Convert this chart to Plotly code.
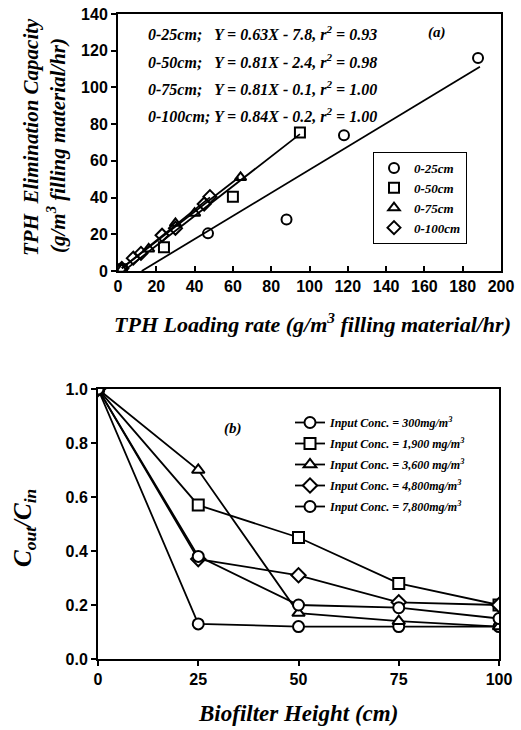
import plotly.graph_objects as go

# ---------- Panel (a) data ----------
a_names = ["0-25cm", "0-50cm", "0-75cm", "0-100cm"]
a_symbols = ["circle-open", "square-open", "triangle-up-open", "diamond-open"]
a_x = [
    [2, 47, 88, 118, 188],
    [2, 24, 60, 95],
    [2, 16, 30, 40, 64],
    [2, 8, 12, 23, 30, 45, 48],
]
a_y = [
    [1, 20.5, 28, 74, 116],
    [1, 13, 40.5, 75.5],
    [1, 12, 26, 31.5, 51],
    [1.4, 7, 9.6, 19.5, 23.3, 36.5, 40.5],
]
fit_slope = [0.63, 0.81, 0.81, 0.84]
fit_icpt = [-7.8, -2.4, -0.1, -0.2]
fit_xmin = [12.4, 3, 2, 2]
fit_xmax = [189, 95, 63, 48]
eq_text = [
    "0-25cm;   Y = 0.63X - 7.8, r<sup>2</sup> = 0.93",
    "0-50cm;   Y = 0.81X - 2.4, r<sup>2</sup> = 0.98",
    "0-75cm;   Y = 0.81X - 0.1, r<sup>2</sup> = 1.00",
    "0-100cm; Y = 0.84X - 0.2, r<sup>2</sup> = 1.00",
]

# ---------- Panel (b) data ----------
b_height = [0, 25, 50, 75, 100]
b_names = [
    "Input Conc. = 300mg/m<sup>3</sup>",
    "Input Conc. = 1,900 mg/m<sup>3</sup>",
    "Input Conc. = 3,600 mg/m<sup>3</sup>",
    "Input Conc. = 4,800mg/m<sup>3</sup>",
    "Input Conc. = 7,800mg/m<sup>3</sup>",
]
b_symbols = ["circle", "square", "triangle-up", "diamond", "circle"]
b_vals = [
    [1.0, 0.13, 0.12, 0.12, 0.12],
    [1.0, 0.57, 0.45, 0.28, 0.20],
    [1.0, 0.70, 0.17, 0.14, 0.12],
    [1.0, 0.37, 0.31, 0.21, 0.20],
    [1.0, 0.38, 0.20, 0.19, 0.15],
]

W, H = 521, 730
def px(x): return x / W
def py(y): return 1 - y / H

SANS = "Liberation Sans"
SERIF = "Liberation Serif"

fig = go.Figure()

# fit lines (a)
for s, b, x0, x1 in zip(fit_slope, fit_icpt, fit_xmin, fit_xmax):
    fig.add_trace(go.Scatter(
        x=[x0, x1], y=[s * x0 + b, s * x1 + b], mode="lines",
        line=dict(color="black", width=1.8), showlegend=False,
        xaxis="x", yaxis="y", hoverinfo="skip"))

# scatter points (a)
for name, sym, xs, ys in zip(a_names, a_symbols, a_x, a_y):
    fig.add_trace(go.Scatter(
        x=xs, y=ys, mode="markers", name=name,
        marker=dict(symbol=sym, size=10, color="black", line=dict(width=2, color="black")),
        xaxis="x", yaxis="y", legend="legend", legendgroup="a" + name))

# lines (b)
for name, sym, vals in zip(b_names, b_symbols, b_vals):
    fig.add_trace(go.Scatter(
        x=b_height, y=vals, mode="lines+markers", name=name,
        line=dict(color="black", width=1.8),
        marker=dict(symbol=sym, size=11, color="white", line=dict(width=2, color="black")),
        xaxis="x2", yaxis="y2", legend="legend2", legendgroup="b" + name))

axis_common = dict(showline=True, linecolor="black", linewidth=2, mirror=True,
                   showgrid=False, zeroline=False, ticklen=5, tickwidth=1.5,
                   tickcolor="black", automargin=False,
                   tickfont=dict(family=SANS, size=16, color="black", weight="bold"))

fig.update_layout(
    width=W, height=H,
    margin=dict(l=0, r=0, t=0, b=0),
    paper_bgcolor="white", plot_bgcolor="white",
    xaxis=dict(domain=[px(118), px(501)], range=[0, 200], dtick=20,
               ticks="inside", anchor="y", **axis_common),
    yaxis=dict(domain=[py(271), py(14)], range=[0, 140], dtick=20,
               ticks="outside", anchor="x", **axis_common),
    xaxis2=dict(domain=[px(98), px(499)], range=[0, 100], tickvals=[0, 25, 50, 75, 100],
                ticks="outside", anchor="y2", **axis_common),
    yaxis2=dict(domain=[py(659), py(389)], range=[0, 1.0], dtick=0.2, tickformat=".1f",
                ticks="outside", anchor="x2", **axis_common),
    legend=dict(x=px(373), y=py(152), xanchor="left", yanchor="top",
                bordercolor="black", borderwidth=1, bgcolor="white",
                font=dict(family=SERIF, size=13, color="black", style="italic", weight="bold"),
                itemwidth=30, tracegroupgap=0),
    legend2=dict(x=px(290), y=py(408), xanchor="left", yanchor="top",
                 bgcolor="rgba(0,0,0,0)", borderwidth=0,
                 font=dict(family=SERIF, size=12, color="black", style="italic", weight="bold"),
                 itemwidth=30, tracegroupgap=2),
)

ann_font = dict(family=SERIF, color="black", style="italic", weight="bold")
annotations = []
for i, t in enumerate(eq_text):
    annotations.append(dict(x=px(146), y=py([33, 61, 88, 115][i]), xref="paper", yref="paper",
                            text=t, showarrow=False, xanchor="left", yanchor="middle",
                            font=dict(size=16, **ann_font)))
annotations += [
    dict(x=px(437), y=py(33), text="(a)", font=dict(size=15, **ann_font)),
    dict(x=px(233), y=py(428), text="(b)", font=dict(size=15, **ann_font)),
    dict(x=px(312), y=py(323), text="TPH Loading rate (g/m<sup>3</sup> filling material/hr)",
         font=dict(size=22, **ann_font)),
    dict(x=px(31), y=py(137), text="TPH  Elimination Capacity", textangle=-90,
         font=dict(size=21, **ann_font)),
    dict(x=px(57), y=py(146), text="(g/m<sup>3</sup> filling material/hr)", textangle=-90,
         font=dict(size=21, **ann_font)),
    dict(x=px(298), y=py(713), text="Biofilter Height (cm)", font=dict(size=23, **ann_font)),
    dict(x=px(24), y=py(528), text="C<sub>out</sub>/C<sub>in</sub>", textangle=-90,
         font=dict(size=25, **ann_font)),
]
for a in annotations[4:]:
    a.update(xref="paper", yref="paper", showarrow=False, xanchor="center", yanchor="middle")
fig.update_layout(annotations=annotations)

fig.write_html("out.html", config={"displayModeBar": False},
               post_script="document.body.style.margin='0';document.body.style.overflow='hidden';")
